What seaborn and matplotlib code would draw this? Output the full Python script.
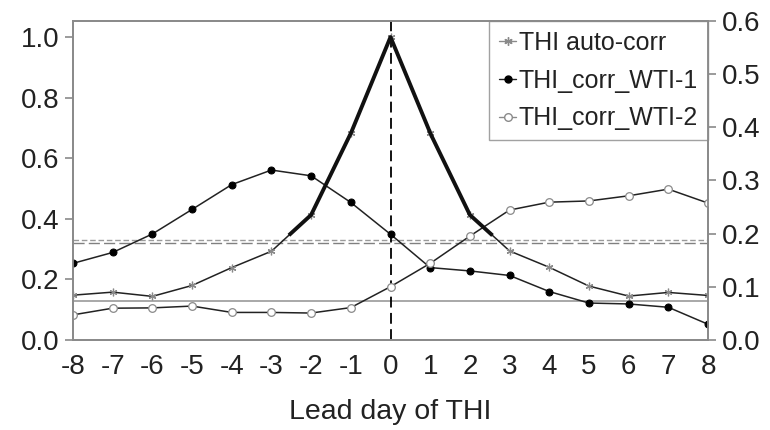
import numpy as np
import pandas as pd
import matplotlib
matplotlib.use("Agg")
import matplotlib.pyplot as plt
import seaborn as sns
from matplotlib.lines import Line2D

sns.set_theme(style="white")
plt.rcParams['font.family'] = ['Liberation Sans', 'DejaVu Sans']

lead_days = list(range(-8, 9))
auto_corr = [0.148, 0.158, 0.144, 0.180, 0.239, 0.293, 0.413, 0.682, 1.000,
             0.683, 0.413, 0.294, 0.240, 0.178, 0.145, 0.157, 0.147]
corr_wti1 = [0.253, 0.289, 0.350, 0.431, 0.513, 0.561, 0.542, 0.454, 0.349,
             0.239, 0.228, 0.213, 0.160, 0.122, 0.119, 0.108, 0.052]
corr_wti2 = [0.083, 0.105, 0.106, 0.112, 0.091, 0.091, 0.089, 0.107, 0.176,
             0.253, 0.343, 0.429, 0.455, 0.459, 0.476, 0.498, 0.452]
sig_short_dash = 0.330
sig_long_dash = 0.320
sig_solid = 0.129
thick_threshold = 0.345
left_ticks = [0.0, 0.2, 0.4, 0.6, 0.8, 1.0]
right_ticks = [0.0, 0.1, 0.2, 0.3, 0.4, 0.5, 0.6]
labels = ["THI auto-corr", "THI_corr_WTI-1", "THI_corr_WTI-2"]

df = pd.DataFrame({"lead": lead_days, "auto": auto_corr,
                   "w1": corr_wti1, "w2": corr_wti2})

fig = plt.figure(figsize=(7.7, 4.3), dpi=100)
ax = fig.add_axes([73/770, 1 - 340/430, (708-73)/770, (340-21)/430])
gray = "#8a8a8a"
dark = "#222222"
FS = 20

# reference lines
ax.axhline(sig_short_dash, color="#9a9a9a", lw=1.0, ls=(0, (4, 2)), zorder=1)
ax.axhline(sig_long_dash, color="#808080", lw=1.0, ls=(0, (8, 3)), zorder=1)
ax.axhline(sig_solid, color="#9a9a9a", lw=1.2, zorder=1)
ax.axvline(0, color="black", lw=1.3, ls=(0, (6, 3)), zorder=1)

sns.lineplot(data=df, x="lead", y="auto", ax=ax, color=dark, lw=1.1,
             marker=(6, 2, 0), markersize=5.5, markeredgecolor=gray,
             markeredgewidth=0.9, zorder=3)
sns.lineplot(data=df, x="lead", y="w1", ax=ax, color=dark, lw=1.1,
             marker="o", markersize=5, markerfacecolor="black",
             markeredgecolor="black", zorder=3)
sns.lineplot(data=df, x="lead", y="w2", ax=ax, color=dark, lw=1.1,
             marker="o", markersize=5.5, markerfacecolor="white",
             markeredgecolor=gray, markeredgewidth=0.9, zorder=3)

# thick overlay where auto-correlation is high
xf = np.linspace(-8, 8, 1601)
yf = np.interp(xf, lead_days, auto_corr)
yf_masked = np.where(yf > thick_threshold, yf, np.nan)
ax.plot(xf, yf_masked, color="#111111", lw=2.8, zorder=4, solid_capstyle="butt")

ax.set_xlim(-8, 8)
ax.set_ylim(0, 1.053)
ax.set_xticks(lead_days)
ax.set_xticklabels([str(d) for d in lead_days])
ax.set_yticks(left_ticks)
ax.set_yticklabels([f"{t:.1f}" for t in left_ticks])
ax.set_xlabel("Lead day of THI", fontsize=20.5, color="#222222", labelpad=14)
ax.set_ylabel("")
ax.tick_params(axis="both", labelsize=FS, colors="#222222", direction="out",
               length=6, width=1.2, color=gray, pad=4)
for s in ax.spines.values():
    s.set_color(gray)
    s.set_linewidth(1.3)

ax2 = ax.twinx()
ax2.set_ylim(0, 0.6)
ax2.set_yticks(right_ticks)
ax2.set_yticklabels([f"{t:.1f}" for t in right_ticks])
ax2.tick_params(axis="y", labelsize=FS, colors="#222222", direction="out",
                length=6, width=1.2, color=gray, pad=4)
for s in ax2.spines.values():
    s.set_color(gray)
    s.set_linewidth(1.3)
ax2.grid(False)

handles = [
    Line2D([], [], color=gray, lw=1.0, marker=(6, 2, 0), markersize=6,
           markeredgecolor=gray),
    Line2D([], [], color=dark, lw=1.0, marker="o", markersize=5,
           markerfacecolor="black", markeredgecolor="black"),
    Line2D([], [], color=gray, lw=1.0, marker="o", markersize=5.5,
           markerfacecolor="white", markeredgecolor=gray),
]
leg = ax.legend(handles, labels, loc="upper right", fontsize=18,
                frameon=True, fancybox=False, borderaxespad=0.0,
                handlelength=0.7, handletextpad=0.1, borderpad=0.4,
                labelspacing=0.55)
leg.get_frame().set_edgecolor(gray)
leg.get_frame().set_linewidth(1.0)
leg.set_zorder(10)
for t in leg.get_texts():
    t.set_color("#222222")

fig.savefig("out.png", dpi=100)
